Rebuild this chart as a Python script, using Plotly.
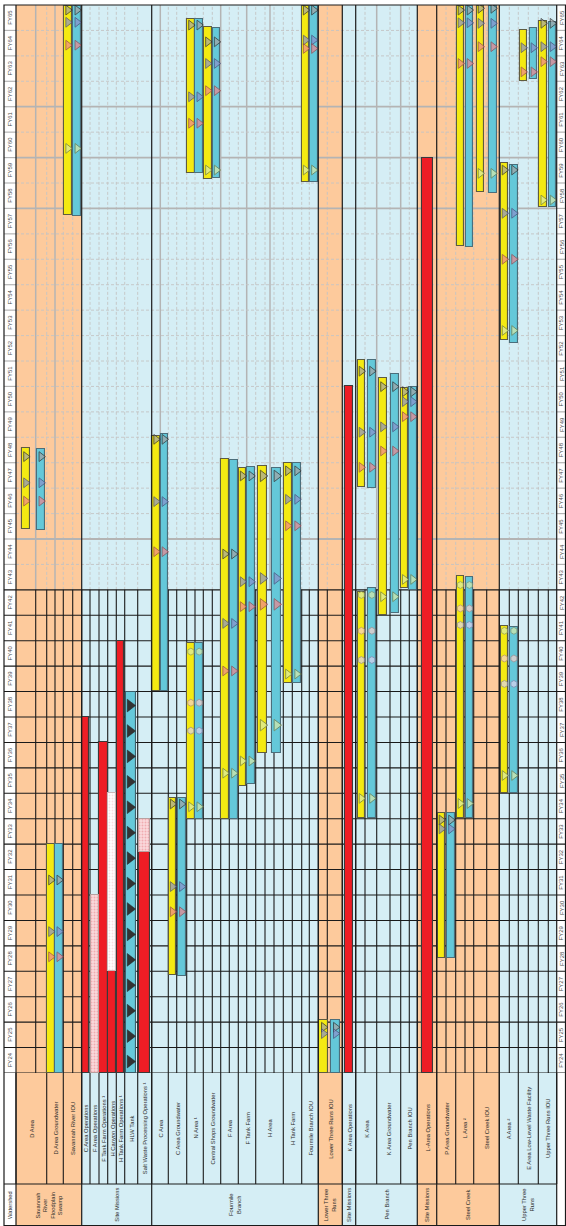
import plotly.graph_objects as go

# ---------------- data ----------------
YEARS = [f"FY{n}" for n in range(24, 66)]

GROUPS = ["Savannah<br>River<br>Floodplain<br>Swamp", "Site Missions", "Fourmile<br>Branch",
          "Lower Three<br>Runs", "Site Missions", "Pen Branch", "Site Missions", "Steel Creek",
          "Upper Three<br>Runs"]
GROUP_TONE = ["orange", "blue", "blue", "orange", "blue", "blue", "orange", "orange", "blue"]

ROWS = ["D Area", "D Area Groundwater", "Savannah River IOU",
        "C Area Operations", "F Area Operations", "F Tank Farm Operations ¹",
        "H Canyon Operations", "H Tank Farm Operations ¹", "HLW Tank",
        "Salt Waste Processing Operations ¹",
        "C Area", "C Area Groundwater", "N Area ¹", "Central Shops Groundwater",
        "F Area", "F Tank Farm", "H Area", "H Tank Farm", "Fourmile Branch IOU",
        "Lower Three Runs IOU", "K Area Operations", "K Area", "K Area Groundwater",
        "Pen Branch IOU", "L-Area Operations", "P Area Groundwater", "L Area ²",
        "Steel Creek IOU", "A Area ²", "E Area Low-Level Waste Facility",
        "Upper Three Runs IOU"]
ROW_GROUP = [0, 0, 0, 1, 1, 1, 1, 1, 1, 1, 2, 2, 2, 2, 2, 2, 2, 2, 2, 3, 4, 5, 5, 5, 6, 7, 7, 7, 8, 8, 8]

# bars: (row index, kind, start, end)  Y=yellow slot, B=blue slot, R=red, P=pink dotted, W=white dotted, T=tank
BARS = [
    (0, "Y", 45.40, 48.59), (0, "B", 45.36, 48.55),
    (1, "Y", 24, 33), (1, "B", 24, 33),
    (2, "Y", 57.74, 65.97), (2, "B", 57.70, 65.97),
    (3, "R", 24, 38),
    (4, "P", 24, 31),
    (5, "R", 24, 37),
    (6, "R", 24, 28), (6, "W", 28, 35),
    (7, "R", 24, 41),
    (8, "T", 24, 39),
    (9, "R", 24, 32.68), (9, "P", 32.68, 34),
    (10, "Y", 39.03, 49.06), (10, "B", 39.03, 49.13),
    (11, "Y", 27.84, 34.80), (11, "B", 27.81, 34.80),
    (12, "Y", 34.0, 40.92), (12, "B", 34.0, 40.92),
    (12, "Y", 59.38, 65.43), (12, "B", 59.38, 65.43),
    (13, "Y", 59.14, 65.15), (13, "B", 59.18, 65.11),
    (14, "Y", 34.0, 48.13), (14, "B", 34.0, 48.09),
    (15, "Y", 35.29, 47.80), (15, "B", 35.35, 47.84),
    (16, "Y", 36.57, 47.87), (16, "B", 36.60, 47.80),
    (17, "Y", 39.35, 48.00), (17, "B", 39.35, 47.98),
    (18, "Y", 59.03, 65.97), (18, "B", 59.03, 65.97),
    (19, "Y", 24, 26.08), (19, "B", 24, 26.08),
    (20, "R", 24, 51.0),
    (21, "Y", 34.03, 42.93), (21, "B", 34.03, 43.06),
    (21, "Y", 47.03, 52.04), (21, "B", 46.99, 52.04),
    (22, "Y", 42.01, 51.32), (22, "B", 42.08, 51.47),
    (23, "Y", 43.06, 50.92), (23, "B", 42.99, 50.99),
    (24, "R", 24, 60.0),
    (25, "Y", 28.52, 34.22), (25, "B", 28.52, 34.22),
    (26, "Y", 34.03, 43.56), (26, "B", 34.03, 43.52),
    (26, "Y", 56.52, 65.95), (26, "B", 56.48, 65.95),
    (27, "Y", 58.63, 65.97), (27, "B", 58.59, 65.97),
    (28, "Y", 35.01, 41.58), (28, "B", 35.01, 41.55),
    (28, "Y", 52.82, 59.77), (28, "B", 52.70, 59.71),
    (29, "Y", 63.01, 65.01), (29, "B", 63.09, 65.08),
    (30, "Y", 58.07, 65.38), (30, "B", 58.05, 65.34),
]

# milestones on both yellow and blue bars: (row index, year, kind)
# G=grey checked triangle, S=slate triangle, K=pink triangle, L=green checked triangle,
# h=green hexagon, p=pink hexagon, v=lavender hexagon
MILESTONES = [
    (0, 48.24, "G"), (0, 47.21, "S"), (0, 46.49, "K"),
    (1, 31.59, "G"), (1, 29.56, "S"), (1, 28.57, "K"),
    (2, 65.80, "G"), (2, 65.32, "S"), (2, 64.42, "K"), (2, 60.36, "L"),
    (10, 48.92, "G"), (10, 46.47, "S"), (10, 44.50, "K"),
    (11, 34.58, "G"), (11, 31.33, "S"), (11, 30.34, "K"),
    (12, 40.57, "h"), (12, 38.56, "p"), (12, 37.46, "v"), (12, 34.47, "L"),
    (12, 65.21, "G"), (12, 62.39, "S"), (12, 61.35, "K"),
    (13, 64.55, "G"), (13, 63.70, "S"), (13, 62.63, "K"), (13, 59.51, "L"),
    (14, 44.41, "G"), (14, 41.68, "S"), (14, 39.81, "K"), (14, 35.79, "L"),
    (15, 47.48, "G"), (15, 43.32, "S"), (15, 42.34, "K"), (15, 36.27, "L"),
    (16, 47.48, "G"), (16, 43.45, "S"), (16, 42.43, "K"), (16, 37.68, "L"),
    (17, 47.68, "G"), (17, 46.56, "S"), (17, 45.52, "K"), (17, 39.69, "L"),
    (18, 65.80, "G"), (18, 64.62, "S"), (18, 64.29, "K"), (18, 59.51, "L"),
    (19, 25.80, "G"), (19, 25.55, "S"),
    (21, 42.80, "h"), (21, 41.39, "p"), (21, 40.24, "v"), (21, 34.80, "L"),
    (21, 51.60, "G"), (21, 49.20, "S"), (21, 47.82, "K"),
    (22, 50.99, "G"), (22, 49.41, "S"), (22, 48.46, "K"), (22, 42.73, "L"),
    (23, 50.79, "G"), (23, 50.40, "S"), (23, 49.81, "K"), (23, 43.41, "L"),
    (25, 33.95, "G"), (25, 33.60, "S"),
    (26, 43.19, "h"), (26, 42.27, "p"), (26, 41.62, "v"), (26, 34.60, "L"),
    (26, 65.80, "G"), (26, 65.30, "S"), (26, 63.70, "K"),
    (27, 65.87, "G"), (27, 65.28, "S"), (27, 64.36, "K"), (27, 59.38, "L"),
    (28, 41.39, "h"), (28, 40.30, "p"), (28, 39.30, "v"), (28, 35.70, "L"),
    (28, 59.51, "G"), (28, 57.81, "S"), (28, 56.00, "K"), (28, 53.20, "L"),
    (29, 64.32, "S"), (29, 63.37, "K"),
    (30, 65.28, "G"), (30, 64.36, "S"), (30, 63.77, "K"), (30, 58.33, "L"),
]
# HLW tank yearly markers
TANK_ROW = 8
TANK_MARKS = [24.45, 25.45, 26.45, 27.45, 28.45, 29.45, 30.45, 31.45, 32.45, 33.45,
              34.45, 35.45, 36.45, 37.45, 38.45]

# ---------------- layout (pixel geometry) ----------------
W, H = 566, 1226
TOP_PX, GRID_BOTTOM_PX, LABEL_BOTTOM_PX = 5, 1073, 1184
FRAME_LEFT, YEARCOL_R, GRID_RIGHT = 4, 16, 556.7
ROW_EDGES = [16, 46.7, 63.3, 81.7, 90, 99, 107.7, 116.3, 124.7, 137.7, 151.7, 168.3, 186.7,
             203.3, 220.7, 238.3, 255.7, 283.3, 301.7, 318.3, 342.3, 355.7, 376.7, 400.7,
             417.3, 436.7, 455.7, 473.7, 499.3, 518.3, 538.3, 556.7]
ROW_SPLIT = [35.7, 55, 72.7, None, None, None, None, None, None, None,
             160.3, 176.7, 195, 212.3, 229.3, 246.7, 270, 292.3, 309.3,
             329, None, 367, 389, 408.5, None, 446, 465, 487, 509.5, 528.3, 548]
SINGLE_W = {3: 7, 4: 8, 5: 8.7, 6: 7.5, 7: 7.7, 8: 10, 9: 10.7, 20: 8, 24: 11}
PAIR_W = {16: 9, 19: 8.5}
GRID_X = [35.7, 46.7, 55, 63.3, 72.7, 81.7, 90, 99, 107.7, 116.3, 124.7, 137.7, 151.7,
          168.3, 176.7, 186.7, 195, 203.3, 212.3, 220.7, 229.3, 238.3, 246.7, 255.7, 265, 274,
          283.3, 292.3, 301.7, 309.3, 318.3, 327.3, 342.3, 355.7, 365, 376.7, 390, 400.7,
          409.3, 417.3, 436.7, 446, 455.7, 465, 473.7, 486.7, 499.3, 509.3, 518.3, 528.3,
          538.3, 548.3]
GROUP_EDGES = [16, 81.7, 151.7, 318.3, 342.3, 355.7, 417.3, 436.7, 499.3, 556.7]
TOP_SOLID_X = [35.7, 55, 160.3, 220.7, 246.7, 270, 376.7, 400.7]
TOP_SOLID_Y = [45, 58, 60, 62]
SPLIT_YEAR = 43

BG = {"orange": "#FDCA9C", "blue": "#D5EEF5"}
FONT = "Liberation Sans, Arial, sans-serif"


def py(px):
    return (H - px) / H


def slot_x(r, kind):
    x0, x1 = ROW_EDGES[r], ROW_EDGES[r + 1]
    s = ROW_SPLIT[r]
    if s is None or kind not in ("Y", "B"):
        return (x0 + x1) / 2
    return (x0 + s) / 2 if kind == "Y" else (s + x1) / 2


def bar_w(r, kind):
    if kind in ("Y", "B"):
        return PAIR_W.get(r, 7.6)
    return SINGLE_W.get(r, 8)


y0_year, y1_year = 24, 66
shapes = []
# backgrounds
for g, tone in enumerate(GROUP_TONE):
    idx = [i for i, gg in enumerate(ROW_GROUP) if gg == g]
    shapes.append(dict(type="rect", xref="x", yref="paper", x0=ROW_EDGES[idx[0]],
                       x1=ROW_EDGES[idx[-1] + 1], y0=0, y1=py(TOP_PX),
                       fillcolor=BG[tone], line_width=0, layer="below"))

dash_col = "#C4C4C4"
solid_gray = "#B4B4B4"
# top region vertical lines
for x in GRID_X:
    if x in GROUP_EDGES:
        continue
    solid = x in TOP_SOLID_X
    shapes.append(dict(type="line", xref="x", yref="y", x0=x, x1=x, y0=SPLIT_YEAR, y1=y1_year,
                       line=dict(color=solid_gray if solid else dash_col,
                                 width=1.5 if solid else 0.9,
                                 dash="solid" if solid else "3px,2px"), layer="below"))
for x in TOP_SOLID_X:
    if x not in GRID_X:
        shapes.append(dict(type="line", xref="x", yref="y", x0=x, x1=x, y0=SPLIT_YEAR,
                           y1=y1_year, line=dict(color=solid_gray, width=1.5), layer="below"))
# top region horizontal lines
for yv in range(SPLIT_YEAR + 1, y1_year):
    solid = yv in TOP_SOLID_Y
    shapes.append(dict(type="line", xref="x", yref="y", x0=YEARCOL_R, x1=GRID_RIGHT, y0=yv, y1=yv,
                       line=dict(color=solid_gray if solid else dash_col,
                                 width=1.8 if solid else 0.9,
                                 dash="solid" if solid else "3px,2px"), layer="below"))
    for xa, xb in ((FRAME_LEFT, YEARCOL_R), (GRID_RIGHT, W)):
        shapes.append(dict(type="line", xref="x", yref="y", x0=xa, x1=xb, y0=yv, y1=yv,
                           line=dict(color=solid_gray, width=1.2), layer="below"))
# lower region grid (black)
for x in GRID_X:
    shapes.append(dict(type="line", xref="x", yref="y", x0=x, x1=x, y0=y0_year, y1=SPLIT_YEAR,
                       line=dict(color="#1A1A1A", width=1.1), layer="below"))
for yv in range(y0_year, SPLIT_YEAR + 1):
    shapes.append(dict(type="line", xref="x", yref="y", x0=FRAME_LEFT, x1=W, y0=yv, y1=yv,
                       line=dict(color="#1A1A1A", width=1.1), layer="below"))
# group boundaries full height
for x in GROUP_EDGES:
    shapes.append(dict(type="line", xref="x", yref="paper", x0=x, x1=x, y0=0, y1=py(TOP_PX),
                       line=dict(color="#1A1A1A", width=1.2), layer="above"))
# label band lines
for x in ROW_EDGES:
    shapes.append(dict(type="line", xref="x", yref="paper", x0=x, x1=x, y0=py(LABEL_BOTTOM_PX),
                       y1=py(GRID_BOTTOM_PX), line=dict(color="#1A1A1A", width=1.1), layer="above"))
shapes.append(dict(type="line", xref="x", yref="paper", x0=FRAME_LEFT, x1=GRID_RIGHT,
                   y0=py(LABEL_BOTTOM_PX), y1=py(LABEL_BOTTOM_PX),
                   line=dict(color="#1A1A1A", width=1.2), layer="above"))
# frame
shapes.append(dict(type="rect", xref="x", yref="paper", x0=FRAME_LEFT, x1=W - 0.5, y0=0.0004,
                   y1=py(TOP_PX), line=dict(color="#1A1A1A", width=1.2), layer="above"))

fig = go.Figure()

# bars
BAR_STYLE = {
    "Y": dict(color="#F4EA12", line="#5E5C40", pattern=None),
    "B": dict(color="#64C8D9", line="#4B6E7B", pattern=None),
    "R": dict(color="#EE1D25", line="#3A3A3A", pattern=None),
    "T": dict(color="#66C9DA", line="#3C5F6A", pattern=None),
    "P": dict(color="#F9D4D6", line="#B9A0A0",
              pattern=dict(shape=".", fgcolor="#E57C86", bgcolor="#FADADC", size=3, solidity=0.35)),
    "W": dict(color="#FFFFFF", line="#C9B9B9",
              pattern=dict(shape=".", fgcolor="#F2C3C6", bgcolor="#FFFFFF", size=3, solidity=0.3)),
}
for kind, st in BAR_STYLE.items():
    sel = [b for b in BARS if b[1] == kind]
    if not sel:
        continue
    marker = dict(color=st["color"], line=dict(color=st["line"], width=1.1))
    if st["pattern"]:
        marker["pattern"] = st["pattern"]
    fig.add_trace(go.Bar(
        x=[slot_x(r, k) for r, k, s, e in sel],
        y=[e - s for r, k, s, e in sel],
        base=[s for r, k, s, e in sel],
        width=[bar_w(r, k) for r, k, s, e in sel],
        marker=marker, hoverinfo="skip", showlegend=False))

# milestones
MARK_STYLE = {
    "G": ("triangle-right", "#A3A3A3", "#2E2E2E", 8.5),
    "S": ("triangle-right", "#8A90CB", "#474B78", 8.5),
    "K": ("triangle-right", "#F0858F", "#95464D", 8.5),
    "L": ("triangle-right", "#D9EBAA", "#6B7C4C", 8.5),
    "h": ("hexagon", "#D9EBAA", "#8A9A6E", 7),
    "p": ("hexagon", "#F8D0CC", "#B18B8B", 7),
    "v": ("hexagon", "#DCD3EE", "#8E86AF", 7),
}
for kind, (sym, fc, lc, size) in MARK_STYLE.items():
    xs, ys, sz = [], [], []
    for r, yv, k in MILESTONES:
        if k != kind:
            continue
        for slot in ("Y", "B"):
            xs.append(slot_x(r, slot))
            ys.append(yv)
            sz.append(size + (1.5 if r == 16 else 0))
    fig.add_trace(go.Scatter(x=xs, y=ys, mode="markers", hoverinfo="skip", showlegend=False,
                             marker=dict(symbol=sym, size=sz, color=fc,
                                         line=dict(color=lc, width=1))))
fig.add_trace(go.Scatter(x=[slot_x(TANK_ROW, "T") - 1.2] * len(TANK_MARKS), y=TANK_MARKS,
                         mode="markers", hoverinfo="skip", showlegend=False,
                         marker=dict(symbol="triangle-right", size=11, color="#333333",
                                     line=dict(color="#222222", width=0.5))))

# annotations
ann = []
lab_font = dict(family=FONT, size=5.8, color="#2A2A2A")
for i, name in enumerate(YEARS):
    for xx in ((FRAME_LEFT + YEARCOL_R) / 2, (GRID_RIGHT + W) / 2):
        ann.append(dict(x=xx, y=24.5 + i, xref="x", yref="y", text=name, showarrow=False,
                        xanchor="center", yanchor="middle",
                        textangle=-90, font=dict(family=FONT, size=6, color="#4A4A4A")))
for i, name in enumerate(ROWS):
    ann.append(dict(x=(ROW_EDGES[i] + ROW_EDGES[i + 1]) / 2,
                    y=(py(GRID_BOTTOM_PX) + py(LABEL_BOTTOM_PX)) / 2,
                    xref="x", yref="paper", text=name, showarrow=False, textangle=-90,
                    xanchor="center", yanchor="middle", font=lab_font))
for g, name in enumerate(GROUPS):
    idx = [i for i, gg in enumerate(ROW_GROUP) if gg == g]
    ann.append(dict(x=(ROW_EDGES[idx[0]] + ROW_EDGES[idx[-1] + 1]) / 2, y=py(1205),
                    xref="x", yref="paper", text=name, showarrow=False, textangle=-90,
                    xanchor="center", yanchor="middle", font=lab_font))
ann.append(dict(x=(FRAME_LEFT + YEARCOL_R) / 2, y=py(1205), xref="x", yref="paper",
                text="Watershed", showarrow=False, textangle=-90,
                xanchor="center", yanchor="middle", font=lab_font))

fig.update_layout(
    width=W, height=H, margin=dict(l=0, r=0, t=0, b=0),
    paper_bgcolor="white", plot_bgcolor="white",
    barmode="overlay", bargap=0, showlegend=False,
    xaxis=dict(range=[0, W], visible=False, fixedrange=True),
    yaxis=dict(range=[y0_year, y1_year], domain=[py(GRID_BOTTOM_PX), py(TOP_PX)],
               visible=False, fixedrange=True),
    shapes=shapes, annotations=ann,
)
fig.write_html("out.html", config={"displayModeBar": False},
               post_script="document.body.style.margin='0px';document.body.style.padding='0px';")
